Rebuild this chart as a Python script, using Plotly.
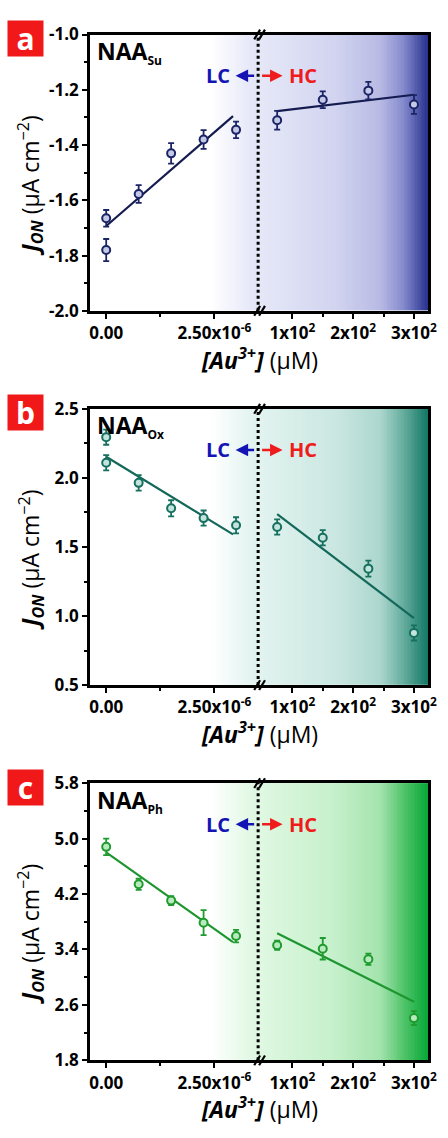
import numpy as np
import plotly.graph_objects as go

W, H = 448, 1138

# ---------------- data ----------------
lc_x = [0, 0, 0.75e-6, 1.5e-6, 2.25e-6, 3.0e-6]
lc_x_c = [0, 0.75e-6, 1.5e-6, 2.25e-6, 3.0e-6]
hc_x = [75, 150, 225, 300]
fit_lc_x = [0, 2.93e-6]
fit_hc_x = [75, 300]

a_lc_y = [-1.665, -1.78, -1.577, -1.43, -1.38, -1.345]
a_lc_err = [0.03, 0.04, 0.032, 0.037, 0.034, 0.03]
a_hc_y = [-1.31, -1.236, -1.203, -1.253]
a_hc_err = [0.034, 0.03, 0.032, 0.034]
a_fit_lc = [-1.693, -1.295]
a_fit_hc = [-1.277, -1.218]

b_lc_y = [2.295, 2.11, 1.964, 1.78, 1.709, 1.657]
b_lc_err = [0.055, 0.055, 0.056, 0.058, 0.055, 0.058]
b_hc_y = [1.645, 1.567, 1.343, 0.878]
b_hc_err = [0.055, 0.055, 0.058, 0.055]
b_fit_lc = [2.153, 1.591]
b_fit_hc = [1.737, 0.985]

c_lc_y = [4.88, 4.34, 4.105, 3.786, 3.593]
c_lc_err = [0.12, 0.08, 0.065, 0.18, 0.09]
c_hc_y = [3.461, 3.41, 3.259, 2.41]
c_hc_err = [0.065, 0.155, 0.08, 0.1]
c_fit_lc = [4.80, 3.505]
c_fit_hc = [3.635, 2.647]

a_yticks = [-2.0, -1.8, -1.6, -1.4, -1.2, -1.0]
a_yticktext = ["-2.0", "-1.8", "-1.6", "-1.4", "-1.2", "-1.0"]
b_yticks = [0.5, 1.0, 1.5, 2.0, 2.5]
b_yticktext = ["0.5", "1.0", "1.5", "2.0", "2.5"]
c_yticks = [1.8, 2.6, 3.4, 4.2, 5.0, 5.8]
c_yticktext = ["1.8", "2.6", "3.4", "4.2", "5.0", "5.8"]

lc_xticks = [0, 2.5e-6]
lc_xticktext = ["0.00", "2.50x10<sup>-6</sup>"]
hc_xticks = [100, 200, 300]
hc_xticktext = ["1x10<sup>2</sup>", "2x10<sup>2</sup>", "3x10<sup>2</sup>"]

panels = [
    dict(letter="a", sub="Su", lc_x=lc_x, lc_y=a_lc_y, lc_err=a_lc_err,
         hc_y=a_hc_y, hc_err=a_hc_err, fit_lc=a_fit_lc, fit_hc=a_fit_hc,
         yrange=[-2.0, -1.0], yt=a_yticks, ytt=a_yticktext, ydt=0.1,
         dark="#1b2566", line="#141b4f", fill="#c4c9e6",
         cl=[[0, "#ffffff"], [0.72, "#ffffff"], [1, "#e2e4f7"]],
         cr=[[0, "#e6e8f8"], [0.45, "#d2d4f0"], [0.72, "#b8bae4"], [0.86, "#8489cc"], [1, "#28338f"]],
         top=23, bottom=305),
    dict(letter="b", sub="Ox", lc_x=lc_x, lc_y=b_lc_y, lc_err=b_lc_err,
         hc_y=b_hc_y, hc_err=b_hc_err, fit_lc=b_fit_lc, fit_hc=b_fit_hc,
         yrange=[0.5, 2.5], yt=b_yticks, ytt=b_yticktext, ydt=0.25,
         dark="#17705f", line="#13685a", fill="#c2e4dd",
         cl=[[0, "#ffffff"], [0.72, "#ffffff"], [1, "#dff2ee"]],
         cr=[[0, "#e2f3f0"], [0.45, "#cbe7e1"], [0.72, "#acd7ce"], [0.86, "#64ac9d"], [1, "#147866"]],
         top=405, bottom=687),
    dict(letter="c", sub="Ph", lc_x=lc_x_c, lc_y=c_lc_y, lc_err=c_lc_err,
         hc_y=c_hc_y, hc_err=c_hc_err, fit_lc=c_fit_lc, fit_hc=c_fit_hc,
         yrange=[1.8, 5.8], yt=c_yticks, ytt=c_yticktext, ydt=0.4,
         dark="#1f9b2f", line="#1e9630", fill="#b8eabd",
         cl=[[0, "#ffffff"], [0.72, "#ffffff"], [1, "#ddf7e0"]],
         cr=[[0, "#dff8e2"], [0.45, "#c6f0cb"], [0.72, "#a4e3ad"], [0.86, "#50c46a"], [1, "#08a838"]],
         top=787, bottom=1070),
]

LC_RANGE = [-0.375e-6, 3.51e-6]
HC_RANGE = [43.7, 323.5]
X_LEFT, X_BREAK, X_RIGHT = 91, 263, 437


def fx(p):
    return p / W


def fy(p):
    return 1 - p / H


FONT = "Open Sans"
fig = go.Figure()
layout = dict(width=W, height=H, margin=dict(l=0, r=0, t=0, b=0),
              paper_bgcolor="white", plot_bgcolor="white", showlegend=False)
annotations = []
shapes = []

ncol = 120
grad = [list(np.linspace(0, 1, ncol))]

for i, p in enumerate(panels):
    xl = "x" if i == 0 else f"x{2*i+1}"
    xr = f"x{2*i+2}"
    yl = "y" if i == 0 else f"y{2*i+1}"
    yr = f"y{2*i+2}"
    kxl = "xaxis" if i == 0 else f"xaxis{2*i+1}"
    kxr = f"xaxis{2*i+2}"
    kyl = "yaxis" if i == 0 else f"yaxis{2*i+1}"
    kyr = f"yaxis{2*i+2}"
    ydom = [fy(p["bottom"]), fy(p["top"])]

    # gradient backgrounds
    fig.add_trace(go.Heatmap(x=list(np.linspace(LC_RANGE[0], LC_RANGE[1], ncol + 1)),
                             y=p["yrange"], z=grad, zmin=0, zmax=1, colorscale=p["cl"],
                             showscale=False, hoverinfo="skip", xaxis=xl, yaxis=yl))
    fig.add_trace(go.Heatmap(x=list(np.linspace(HC_RANGE[0], HC_RANGE[1], ncol + 1)),
                             y=p["yrange"], z=grad, zmin=0, zmax=1, colorscale=p["cr"],
                             showscale=False, hoverinfo="skip", xaxis=xr, yaxis=yr))
    # fit lines
    fig.add_trace(go.Scatter(x=fit_lc_x, y=p["fit_lc"], mode="lines",
                             line=dict(color=p["line"], width=2.2), xaxis=xl, yaxis=yl))
    fig.add_trace(go.Scatter(x=fit_hc_x, y=p["fit_hc"], mode="lines",
                             line=dict(color=p["line"], width=2.2), xaxis=xr, yaxis=yr))
    # points
    mk = dict(symbol="circle", size=8, color=p["fill"], line=dict(color=p["dark"], width=2))
    eb_l = dict(type="data", array=p["lc_err"], color=p["dark"], thickness=1.8, width=3)
    eb_r = dict(type="data", array=p["hc_err"], color=p["dark"], thickness=1.8, width=3)
    fig.add_trace(go.Scatter(x=p["lc_x"], y=p["lc_y"], mode="markers", marker=mk,
                             error_y=eb_l, xaxis=xl, yaxis=yl))
    fig.add_trace(go.Scatter(x=hc_x, y=p["hc_y"], mode="markers", marker=mk,
                             error_y=eb_r, xaxis=xr, yaxis=yr))

    tickfont = dict(family=FONT, size=17, color="black", weight="bold")
    layout[kxl] = dict(domain=[fx(X_LEFT), fx(X_BREAK)], range=LC_RANGE, anchor=yl,
                       showline=True, linecolor="black", linewidth=2.5, mirror=True,
                       ticks="outside", ticklen=5, tickwidth=2, tickcolor="black",
                       tickvals=lc_xticks, ticktext=lc_xticktext, tickfont=tickfont,
                       minor=dict(tickvals=[1.25e-6], ticks="outside", ticklen=3,
                                  tickwidth=2, tickcolor="black"),
                       showgrid=False, zeroline=False, fixedrange=True)
    layout[kxr] = dict(domain=[fx(X_BREAK), fx(X_RIGHT)], range=HC_RANGE, anchor=yr,
                       showline=True, linecolor="black", linewidth=2.5, mirror=True,
                       ticks="outside", ticklen=5, tickwidth=2, tickcolor="black",
                       tickvals=hc_xticks, ticktext=hc_xticktext, tickfont=tickfont,
                       minor=dict(tickvals=[150, 250], ticks="outside", ticklen=3,
                                  tickwidth=2, tickcolor="black"),
                       showgrid=False, zeroline=False, fixedrange=True)
    layout[kyl] = dict(domain=ydom, range=p["yrange"], anchor=xl,
                       showline=True, linecolor="black", linewidth=2.5, mirror=False,
                       ticks="outside", ticklen=5, tickwidth=2, tickcolor="black",
                       tickvals=p["yt"], ticktext=p["ytt"], tickfont=tickfont,
                       minor=dict(tick0=p["yrange"][0], dtick=p["ydt"], ticks="outside",
                                  ticklen=3, tickwidth=2, tickcolor="black"),
                       showgrid=False, zeroline=False, fixedrange=True)
    layout[kyr] = dict(domain=ydom, range=p["yrange"], anchor=xr, side="right",
                       showline=True, linecolor="black", linewidth=2.5,
                       ticks="", showticklabels=False,
                       showgrid=False, zeroline=False, fixedrange=True)

    top, bot = p["top"], p["bottom"]
    # dotted break line
    shapes.append(dict(type="line", xref="paper", yref="paper",
                       x0=fx(X_BREAK), x1=fx(X_BREAK), y0=fy(bot), y1=fy(top),
                       line=dict(color="black", width=3, dash="dot")))
    # axis break marks
    for yy in (top, bot):
        for cx in (X_BREAK - 1, X_BREAK + 4):
            shapes.append(dict(type="line", xref="paper", yref="paper",
                               x0=fx(cx - 3), x1=fx(cx + 3), y0=fy(yy + 5), y1=fy(yy - 5),
                               line=dict(color="black", width=2.2)))

    # panel letter
    annotations.append(dict(text=f"<b>{p['letter']}</b>", xref="paper", yref="paper",
                            x=fx(25), y=fy(top + 4), showarrow=False,
                            font=dict(family=FONT, size=30, color="white"),
                            bgcolor="#f01818", width=35, height=35, borderpad=0,
                            xanchor="center", yanchor="middle"))
    # NAA label
    annotations.append(dict(text=f"<b>NAA</b><sub><b><span style='font-size:12px'>{p['sub']}</span></b></sub>",
                            xref="paper", yref="paper",
                            x=fx(96), y=fy(top + 18), showarrow=False,
                            font=dict(family=FONT, size=23, color="black"),
                            xanchor="left", yanchor="middle"))
    # LC / HC
    annotations.append(dict(text="<b>LC</b>", xref="paper", yref="paper",
                            x=fx(222), y=fy(top + 42), showarrow=False,
                            font=dict(family=FONT, size=20, color="#1414b4"),
                            xanchor="center", yanchor="middle"))
    annotations.append(dict(text="<b>HC</b>", xref="paper", yref="paper",
                            x=fx(309), y=fy(top + 42), showarrow=False,
                            font=dict(family=FONT, size=20, color="#ee1c1c"),
                            xanchor="center", yanchor="middle"))
    annotations.append(dict(text="", xref="paper", yref="paper", x=fx(240), y=fy(top + 42),
                            ax=20, ay=0, showarrow=True, arrowhead=2, arrowsize=1,
                            arrowwidth=2.5, arrowcolor="#1414b4"))
    annotations.append(dict(text="", xref="paper", yref="paper", x=fx(288), y=fy(top + 42),
                            ax=-22, ay=0, showarrow=True, arrowhead=2, arrowsize=1,
                            arrowwidth=2.5, arrowcolor="#ee1c1c"))
    # axis titles
    annotations.append(dict(text="<b><i>[Au</i></b><sup><b><i>3+</i></b></sup><b><i>]</i></b> (\u03bcM)",
                            xref="paper", yref="paper", x=fx(264), y=fy(bot + 49),
                            showarrow=False, font=dict(family=FONT, size=23, color="black"),
                            xanchor="center", yanchor="middle"))
    annotations.append(dict(text="<b><i>J</i></b><sub><b><i>ON</i></b></sub> (\u03bcA cm<sup>\u22122</sup>)",
                            xref="paper", yref="paper", x=fx(30), y=fy(top + 154),
                            showarrow=False, textangle=-90,
                            font=dict(family=FONT, size=23, color="black"),
                            xanchor="center", yanchor="middle"))

layout["annotations"] = annotations
layout["shapes"] = shapes
fig.update_layout(**layout)
fig.write_html("out.html")
